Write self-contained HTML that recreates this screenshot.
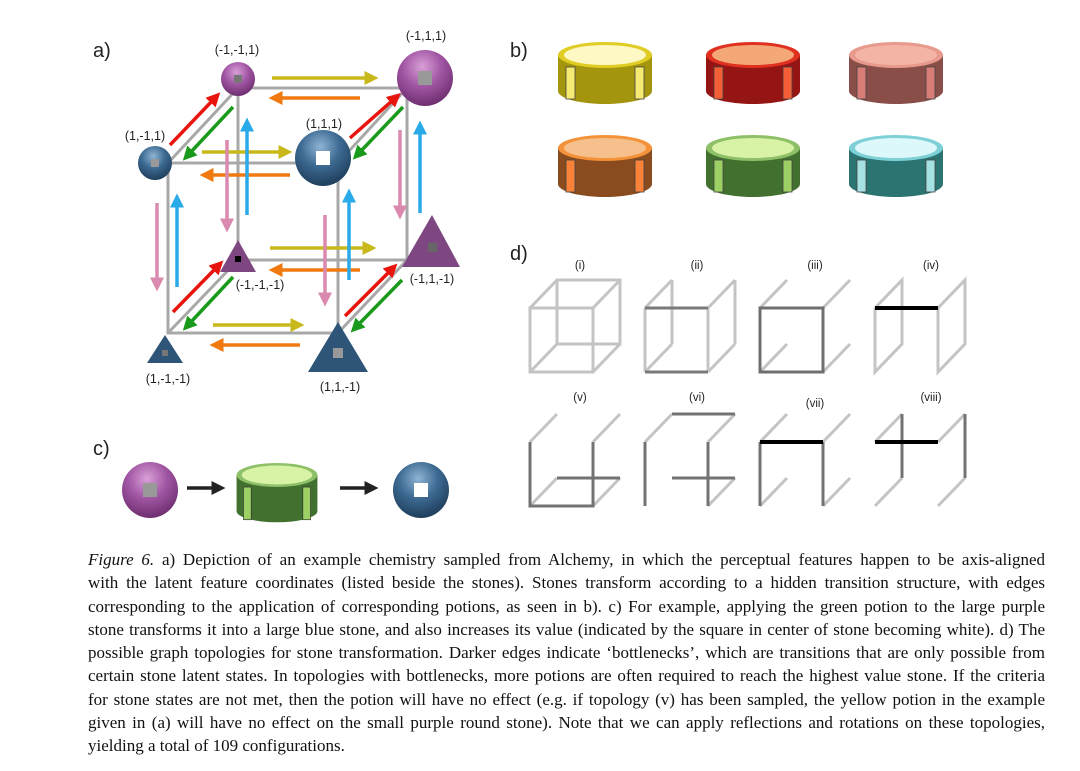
<!DOCTYPE html>
<html><head><meta charset="utf-8"><style>
body{margin:0;background:#fff;width:1080px;height:771px;overflow:hidden;position:relative;font-family:"Liberation Sans",sans-serif}
svg{position:absolute;left:0;top:0}
.cap{position:absolute;left:88px;top:548px;width:957px;font-family:"Liberation Serif",serif;font-size:17px;line-height:23.3px;color:#111}
.cap div{text-align:justify;text-align-last:justify;white-space:nowrap}
.cap div.l{text-align-last:left}
</style></head><body>
<svg width="1080" height="771" viewBox="0 0 1080 771">
<defs>
<marker id="my" markerWidth="4" markerHeight="4" refX="1" refY="2" orient="auto" markerUnits="strokeWidth"><path d="M0,0L4,2L0,4z" fill="#c9b81c"/></marker>
<marker id="mo" markerWidth="4" markerHeight="4" refX="1" refY="2" orient="auto" markerUnits="strokeWidth"><path d="M0,0L4,2L0,4z" fill="#f07a10"/></marker>
<marker id="mr" markerWidth="4" markerHeight="4" refX="1" refY="2" orient="auto" markerUnits="strokeWidth"><path d="M0,0L4,2L0,4z" fill="#e8150f"/></marker>
<marker id="mg" markerWidth="4" markerHeight="4" refX="1" refY="2" orient="auto" markerUnits="strokeWidth"><path d="M0,0L4,2L0,4z" fill="#1a9a1a"/></marker>
<marker id="mp" markerWidth="4" markerHeight="4" refX="1" refY="2" orient="auto" markerUnits="strokeWidth"><path d="M0,0L4,2L0,4z" fill="#d98aae"/></marker>
<marker id="mb" markerWidth="4" markerHeight="4" refX="1" refY="2" orient="auto" markerUnits="strokeWidth"><path d="M0,0L4,2L0,4z" fill="#2aaae8"/></marker>
<marker id="mk" markerWidth="4" markerHeight="4" refX="1" refY="2" orient="auto" markerUnits="strokeWidth"><path d="M0,0L4,2L0,4z" fill="#222"/></marker>
<radialGradient id="gp" cx="0.45" cy="0.3" r="0.7"><stop offset="0" stop-color="#d9a0d8"/><stop offset="0.5" stop-color="#a156a3"/><stop offset="1" stop-color="#6e2f70"/></radialGradient>
<radialGradient id="gb" cx="0.45" cy="0.3" r="0.7"><stop offset="0" stop-color="#8fb4d4"/><stop offset="0.5" stop-color="#3d6a92"/><stop offset="1" stop-color="#1f3e5c"/></radialGradient>
</defs>
<g font-size="20" fill="#222"><text x="93" y="57">a)</text><text x="510" y="57">b)</text><text x="93" y="455">c)</text><text x="510" y="260">d)</text></g>

<g stroke="#a8a8a8" stroke-width="3" fill="none">
<rect x="238" y="88" width="169" height="172"/>
<rect x="168" y="163" width="170" height="170"/>
<line x1="168" y1="163" x2="238" y2="88"/><line x1="338" y1="163" x2="407" y2="88"/>
<line x1="168" y1="333" x2="238" y2="260"/><line x1="338" y1="333" x2="407" y2="260"/>
</g>
<g stroke-width="3.5" fill="none">
<g stroke="#c9b81c" marker-end="url(#my)">
<line x1="272" y1="78" x2="368" y2="78"/><line x1="202" y1="152" x2="282" y2="152"/>
<line x1="270" y1="248" x2="366" y2="248"/><line x1="213" y1="325" x2="294" y2="325"/></g>
<g stroke="#f07a10" marker-end="url(#mo)">
<line x1="360" y1="98" x2="279" y2="98"/><line x1="290" y1="175" x2="210" y2="175"/>
<line x1="360" y1="270" x2="279" y2="270"/><line x1="300" y1="345" x2="220" y2="345"/></g>
<g stroke="#e8150f" marker-end="url(#mr)">
<line x1="170" y1="145" x2="213" y2="100"/><line x1="350" y1="138" x2="393" y2="100"/>
<line x1="173" y1="312" x2="216" y2="268"/><line x1="345" y1="316" x2="390" y2="271"/></g>
<g stroke="#1a9a1a" marker-end="url(#mg)">
<line x1="233" y1="107" x2="190" y2="153"/><line x1="403" y1="107" x2="360" y2="152"/>
<line x1="233" y1="277" x2="190" y2="323"/><line x1="402" y1="280" x2="358" y2="325"/></g>
<g stroke="#d98aae" marker-end="url(#mp)">
<line x1="157" y1="203" x2="157" y2="281"/><line x1="227" y1="140" x2="227" y2="222"/>
<line x1="325" y1="215" x2="325" y2="296"/><line x1="400" y1="130" x2="400" y2="209"/></g>
<g stroke="#2aaae8" marker-end="url(#mb)">
<line x1="177" y1="287" x2="177" y2="204"/><line x1="247" y1="215" x2="247" y2="128"/>
<line x1="349" y1="280" x2="349" y2="199"/><line x1="420" y1="213" x2="420" y2="131"/></g>
</g>
<circle cx="238" cy="79" r="17" fill="url(#gp)"/><rect x="234" y="75" width="8" height="8" fill="#777"/>
<circle cx="425" cy="78" r="28" fill="url(#gp)"/><rect x="418" y="71" width="14" height="14" fill="#999"/>
<circle cx="155" cy="163" r="17" fill="url(#gb)"/><rect x="151" y="159" width="8" height="8" fill="#999"/>
<circle cx="323" cy="158" r="28" fill="url(#gb)"/><rect x="316" y="151" width="14" height="14" fill="#fff"/>
<polygon points="238,240 256,272 220,272" fill="#7e4782"/><rect x="235" y="256" width="6" height="6" fill="#000"/>
<polygon points="432,215 460,267 402,267" fill="#7e4782"/><rect x="428" y="243" width="9" height="9" fill="#666"/>
<polygon points="165,335 183,363 147,363" fill="#2e5578"/><rect x="162" y="350" width="6" height="6" fill="#777"/>
<polygon points="338,322 368,372 308,372" fill="#2e5578"/><rect x="333" y="348" width="10" height="10" fill="#999"/>
<g font-size="12.5" fill="#222" text-anchor="middle">
<text x="237" y="54">(-1,-1,1)</text><text x="426" y="40">(-1,1,1)</text>
<text x="145" y="140">(1,-1,1)</text><text x="324" y="128">(1,1,1)</text>
<text x="260" y="289">(-1,-1,-1)</text><text x="432" y="283">(-1,1,-1)</text>
<text x="168" y="383">(1,-1,-1)</text><text x="340" y="391">(1,1,-1)</text>
</g>

<g>
<g transform="translate(605,55)"><path d="M-47,0L-47,36A47,13 0 0 0 47,36L47,0Z" fill="#a4950e"/><ellipse rx="47" ry="13" fill="#e0cc22"/><ellipse rx="41" ry="10" fill="#fdf8c4"/><rect x="-39" y="12" width="9" height="32" fill="#f5ea72" stroke="#444" stroke-width=".8"/><rect x="30" y="12" width="9" height="32" fill="#f5ea72" stroke="#444" stroke-width=".8"/></g>
<g transform="translate(753,55)"><path d="M-47,0L-47,36A47,13 0 0 0 47,36L47,0Z" fill="#951414"/><ellipse rx="47" ry="13" fill="#e03020"/><ellipse rx="41" ry="10" fill="#f4a878"/><rect x="-39" y="12" width="9" height="32" fill="#f45e36" stroke="#444" stroke-width=".8"/><rect x="30" y="12" width="9" height="32" fill="#f45e36" stroke="#444" stroke-width=".8"/></g>
<g transform="translate(896,55)"><path d="M-47,0L-47,36A47,13 0 0 0 47,36L47,0Z" fill="#8a4e48"/><ellipse rx="47" ry="13" fill="#e79a8c"/><ellipse rx="41" ry="10" fill="#f3b4a6"/><rect x="-39" y="12" width="9" height="32" fill="#d87e76" stroke="#444" stroke-width=".8"/><rect x="30" y="12" width="9" height="32" fill="#d87e76" stroke="#444" stroke-width=".8"/></g>
<g transform="translate(605,148)"><path d="M-47,0L-47,36A47,13 0 0 0 47,36L47,0Z" fill="#8a4c1e"/><ellipse rx="47" ry="13" fill="#f4923a"/><ellipse rx="41" ry="10" fill="#f6c08c"/><rect x="-39" y="12" width="9" height="32" fill="#f98238" stroke="#444" stroke-width=".8"/><rect x="30" y="12" width="9" height="32" fill="#f98238" stroke="#444" stroke-width=".8"/></g>
<g transform="translate(753,148)"><path d="M-47,0L-47,36A47,13 0 0 0 47,36L47,0Z" fill="#42702e"/><ellipse rx="47" ry="13" fill="#8ec068"/><ellipse rx="41" ry="10" fill="#d8f2a6"/><rect x="-39" y="12" width="9" height="32" fill="#9cd064" stroke="#444" stroke-width=".8"/><rect x="30" y="12" width="9" height="32" fill="#9cd064" stroke="#444" stroke-width=".8"/></g>
<g transform="translate(896,148)"><path d="M-47,0L-47,36A47,13 0 0 0 47,36L47,0Z" fill="#2c7472"/><ellipse rx="47" ry="13" fill="#7cd0d6"/><ellipse rx="41" ry="10" fill="#dcf8fa"/><rect x="-39" y="12" width="9" height="32" fill="#a4e2e4" stroke="#444" stroke-width=".8"/><rect x="30" y="12" width="9" height="32" fill="#a4e2e4" stroke="#444" stroke-width=".8"/></g>
</g>

<circle cx="150" cy="490" r="28" fill="url(#gp)"/><rect x="143" y="483" width="14" height="14" fill="#999"/>
<line x1="187" y1="488" x2="215" y2="488" stroke="#222" stroke-width="3.5" marker-end="url(#mk)"/>
<g transform="translate(277,475) scale(0.86)"><path d="M-47,0L-47,42A47,13 0 0 0 47,42L47,0Z" fill="#42702e"/><ellipse rx="47" ry="14" fill="#8ec068"/><ellipse rx="41" ry="11" fill="#d8f2a6"/><rect x="-39" y="14" width="9" height="38" fill="#9cd064" stroke="#333" stroke-width=".8"/><rect x="30" y="14" width="9" height="38" fill="#9cd064" stroke="#333" stroke-width=".8"/></g>
<line x1="340" y1="488" x2="368" y2="488" stroke="#222" stroke-width="3.5" marker-end="url(#mk)"/>
<circle cx="421" cy="490" r="28" fill="url(#gb)"/><rect x="414" y="483" width="14" height="14" fill="#fff"/>

<g font-size="11.5" fill="#222" text-anchor="middle">
<text x="580" y="269">(i)</text><text x="697" y="269">(ii)</text><text x="815" y="269">(iii)</text><text x="931" y="269">(iv)</text>
<text x="580" y="401">(v)</text><text x="697" y="401">(vi)</text><text x="815" y="407">(vii)</text><text x="931" y="401">(viii)</text>
</g>
<g fill="none" stroke-width="3" stroke-linecap="butt">
<g transform="translate(530,308)" stroke="#c4c4c4">
<rect x="27" y="-28" width="63" height="64"/><rect x="0" y="0" width="63" height="64"/>
<path d="M0,0L27,-28M63,0L90,-28M0,64L27,36M63,64L90,36"/></g>
<g transform="translate(645,308)">
<path stroke="#c4c4c4" d="M27,-28L27,36M90,-28L90,36M0,0L27,-28M63,0L90,-28M0,64L27,36M63,64L90,36M0,0L0,64M63,0L63,64"/>
<path stroke="#7a7a7a" d="M0,0L63,0M0,64L63,64"/></g>
<g transform="translate(760,308)">
<path stroke="#c4c4c4" d="M0,0L27,-28M63,0L90,-28M0,64L27,36M63,64L90,36"/>
<rect stroke="#6f6f6f" x="0" y="0" width="63" height="64"/></g>
<g transform="translate(875,308)">
<path stroke="#c4c4c4" d="M0,0L0,64L27,36L27,-28L0,0M63,0L63,64L90,36L90,-28L63,0"/>
<path stroke="#000" stroke-width="4" d="M0,0L63,0"/></g>
<g transform="translate(530,442)">
<path stroke="#c4c4c4" d="M0,0L27,-28M63,0L90,-28M0,64L27,36M63,64L90,36"/>
<path stroke="#737373" d="M0,0L0,64L63,64L63,0M27,36L90,36"/></g>
<g transform="translate(645,442)">
<path stroke="#c4c4c4" d="M0,0L27,-28M63,0L90,-28M63,64L90,36"/>
<path stroke="#737373" d="M0,0L0,64M63,0L63,64M27,-28L90,-28M27,36L90,36"/></g>
<g transform="translate(760,442)">
<path stroke="#c4c4c4" d="M0,0L27,-28M63,0L90,-28M0,64L27,36M63,64L90,36"/>
<path stroke="#737373" d="M0,0L0,64M63,0L63,64"/>
<path stroke="#000" stroke-width="4" d="M0,0L63,0"/></g>
<g transform="translate(875,442)">
<path stroke="#c4c4c4" d="M0,0L27,-28M63,0L90,-28M0,64L27,36M63,64L90,36"/>
<path stroke="#737373" d="M27,-28L27,36M90,-28L90,36"/>
<path stroke="#000" stroke-width="4" d="M0,0L63,0"/></g>
</g>
</svg>
<div class="cap">
<div><i>Figure 6.</i> a) Depiction of an example chemistry sampled from Alchemy, in which the perceptual features happen to be axis-aligned</div>
<div>with the latent feature coordinates (listed beside the stones). Stones transform according to a hidden transition structure, with edges</div>
<div>corresponding to the application of corresponding potions, as seen in b). c) For example, applying the green potion to the large purple</div>
<div>stone transforms it into a large blue stone, and also increases its value (indicated by the square in center of stone becoming white). d) The</div>
<div>possible graph topologies for stone transformation. Darker edges indicate ‘bottlenecks’, which are transitions that are only possible from</div>
<div>certain stone latent states. In topologies with bottlenecks, more potions are often required to reach the highest value stone. If the criteria</div>
<div>for stone states are not met, then the potion will have no effect (e.g. if topology (v) has been sampled, the yellow potion in the example</div>
<div>given in (a) will have no effect on the small purple round stone). Note that we can apply reflections and rotations on these topologies,</div>
<div class="l">yielding a total of 109 configurations.</div>
</div>
</body></html>
